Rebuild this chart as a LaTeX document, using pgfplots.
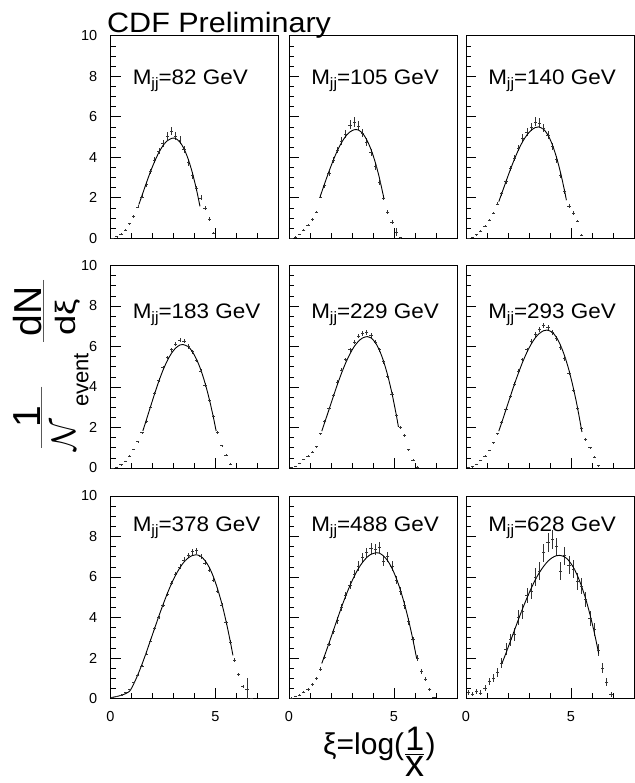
\RequirePackage{fix-cm}
\documentclass[border=0pt]{standalone}
\usepackage{pgfplots}
\pgfplotsset{compat=1.18}
\usepackage{graphicx}
\usepackage{amsmath}
\usepackage{fontspec}
\setmainfont{Liberation Sans}

\newcommand{\tickfont}{\fontsize{14.5}{14.5}\selectfont}
\newcommand{\mjj}[1]{\fontsize{21}{21}\selectfont\scalebox{1.07}[1]{M\raisebox{-4.5pt}{\fontsize{15}{15}\selectfont jj}=#1 GeV}}

\pgfplotsset{
  panel/.style={
    scale only axis, width=168pt, height=202.5pt, anchor=south west,
    xmin=0, xmax=8, ymin=0, ymax=10,
    xtick={0,5}, minor xtick={1,2,3,4,6,7},
    ytick={0,2,4,6,8,10},
    minor ytick={0.5,1,1.5,2.5,3,3.5,4.5,5,5.5,6.5,7,7.5,8.5,9,9.5},
    tick align=inside, xtick pos=bottom, ytick pos=left,
    major tick length=10pt, minor tick length=5pt,
    every tick/.style={black, line width=0.6pt},
    axis line style={line width=0.9pt, black},
    /pgf/number format/assume math mode=true,
    xticklabel style={font=\tickfont, inner sep=0pt, anchor=north, yshift=-13pt},
    yticklabel style={font=\tickfont, inner sep=0pt, anchor=east, xshift=-13pt},
  },
  noy/.style={yticklabels={}},
  nox/.style={xticklabels={}},
  dat/.style={only marks, black!80, mark=-, mark size=1.6pt,
    mark options={line width=0.55pt},
    error bars/.cd, y dir=both, y explicit, error mark=none,
    error bar style={line width=0.55pt, black!80}},
  fit/.style={no marks, smooth, line width=0.9pt, black},
}

\begin{document}
\begin{tikzpicture}[x=1pt,y=1pt]
\path[use as bounding box] (0,0) rectangle (634,783);

% ---------------- Row 1 ----------------
\begin{axis}[panel, nox, at={(110.5pt,544.7pt)}]
\addplot[dat] table[row sep=\\, x index=0, y index=1, y error index=2]{
0.1 0.01 0.01\\ 0.3 0.08 0.02\\ 0.5 0.22 0.03\\ 0.7 0.42 0.04\\ 0.9 0.72 0.05\\
1.1 1.08 0.06\\ 1.3 1.55 0.07\\ 1.5 2.05 0.08\\ 1.7 2.65 0.1\\ 1.9 3.3 0.12\\
2.1 3.85 0.14\\ 2.3 4.3 0.15\\ 2.5 4.7 0.17\\ 2.7 5.05 0.19\\ 2.9 5.3 0.2\\
3.1 5.05 0.2\\ 3.3 4.85 0.2\\ 3.5 4.4 0.18\\ 3.7 3.75 0.16\\ 3.9 3.1 0.15\\
4.1 2.45 0.13\\ 4.3 2.0 0.12\\ 4.5 1.5 0.1\\ 4.7 0.95 0.08\\ 4.9 0.25 0.05\\
};
\addplot[fit] coordinates {(1.35,1.67)(1.5,2.11)(1.7,2.71)(1.9,3.28)(2.1,3.79)(2.3,4.23)(2.5,4.58)(2.7,4.81)(2.9,4.93)(3.0,4.95)(3.1,4.93)(3.3,4.76)(3.5,4.42)(3.7,3.91)(3.9,3.23)(4.1,2.38)(4.26,1.58)};
\node[anchor=base west, inner sep=0pt] at (axis cs:1.05,7.6) {\mjj{82}};
\end{axis}

\begin{axis}[panel, nox, noy, at={(289pt,544.7pt)}]
\addplot[dat] table[row sep=\\, x index=0, y index=1, y error index=2]{
0.1 0.01 0.01\\ 0.3 0.07 0.02\\ 0.5 0.2 0.03\\ 0.7 0.4 0.04\\ 0.9 0.65 0.05\\
1.1 0.92 0.06\\ 1.3 1.3 0.07\\ 1.5 2.05 0.08\\ 1.7 2.6 0.1\\ 1.9 3.2 0.12\\
2.1 3.85 0.14\\ 2.3 4.35 0.16\\ 2.5 4.8 0.18\\ 2.7 5.15 0.2\\ 2.9 5.6 0.22\\
3.1 5.75 0.24\\ 3.3 5.55 0.22\\ 3.5 5.2 0.2\\ 3.7 4.75 0.2\\ 3.9 4.25 0.18\\
4.1 3.55 0.16\\ 4.3 2.75 0.14\\ 4.5 2.0 0.12\\ 4.7 1.3 0.1\\ 4.9 0.8 0.08\\
5.1 0.3 0.2\\ 5.3 0.03 0.02\\
};
\addplot[fit] coordinates {(1.48,2.05)(1.7,2.71)(1.9,3.29)(2.1,3.83)(2.3,4.32)(2.5,4.72)(2.7,5.04)(2.9,5.25)(3.1,5.36)(3.19,5.37)(3.3,5.35)(3.5,5.19)(3.7,4.87)(3.9,4.40)(4.1,3.78)(4.3,3.00)(4.52,1.97)};
\node[anchor=base west, inner sep=0pt] at (axis cs:1.05,7.6) {\mjj{105}};
\end{axis}

\begin{axis}[panel, nox, noy, at={(466pt,544.7pt)}]
\addplot[dat] table[row sep=\\, x index=0, y index=1, y error index=2]{
0.1 0.01 0.01\\ 0.3 0.06 0.02\\ 0.5 0.18 0.03\\ 0.7 0.36 0.04\\ 0.9 0.6 0.05\\
1.1 0.9 0.06\\ 1.3 1.25 0.07\\ 1.5 1.7 0.08\\ 1.7 2.2 0.1\\ 1.9 2.8 0.11\\
2.1 3.45 0.13\\ 2.3 3.95 0.14\\ 2.5 4.45 0.16\\ 2.7 4.95 0.18\\ 2.9 5.25 0.2\\
3.1 5.5 0.2\\ 3.3 5.75 0.22\\ 3.5 5.7 0.22\\ 3.7 5.45 0.2\\ 3.9 5.1 0.2\\
4.1 4.55 0.18\\ 4.3 3.9 0.16\\ 4.5 3.1 0.14\\ 4.7 2.3 0.12\\ 4.9 1.6 0.1\\
5.1 1.25 0.08\\ 5.3 0.85 0.07\\ 5.5 0.15 0.05\\
};
\addplot[fit] coordinates {(1.56,1.81)(1.7,2.21)(1.9,2.79)(2.1,3.36)(2.3,3.89)(2.5,4.37)(2.7,4.78)(2.9,5.10)(3.1,5.33)(3.3,5.47)(3.46,5.5)(3.7,5.38)(3.9,5.10)(4.1,4.65)(4.3,4.03)(4.5,3.25)(4.7,2.31)(4.78,1.88)};
\node[anchor=base west, inner sep=0pt] at (axis cs:1.05,7.6) {\mjj{140}};
\end{axis}

% ---------------- Row 2 ----------------
\begin{axis}[panel, nox, at={(110.5pt,315pt)}]
\addplot[dat] table[row sep=\\, x index=0, y index=1, y error index=2]{
0.1 0.01 0.01\\ 0.3 0.06 0.01\\ 0.5 0.17 0.02\\ 0.7 0.35 0.02\\ 0.9 0.6 0.03\\
1.1 0.92 0.03\\ 1.3 1.3 0.04\\ 1.5 1.75 0.05\\ 1.7 2.3 0.06\\ 1.9 3.0 0.06\\
2.1 3.7 0.07\\ 2.3 4.35 0.08\\ 2.5 4.95 0.08\\ 2.7 5.45 0.09\\ 2.9 5.85 0.1\\
3.1 6.1 0.1\\ 3.3 6.3 0.1\\ 3.5 6.25 0.1\\ 3.7 6.0 0.1\\ 3.9 5.75 0.1\\
4.1 5.3 0.09\\ 4.3 4.8 0.09\\ 4.5 4.1 0.08\\ 4.7 3.35 0.08\\ 4.9 2.55 0.07\\
5.1 1.75 0.06\\ 5.3 1.1 0.05\\ 5.5 0.65 0.04\\ 5.7 0.2 0.03\\
};
\addplot[fit] coordinates {(1.54,1.83)(1.7,2.35)(1.9,3.01)(2.1,3.66)(2.3,4.28)(2.5,4.83)(2.7,5.29)(2.9,5.66)(3.1,5.92)(3.3,6.07)(3.44,6.1)(3.7,5.99)(3.9,5.74)(4.1,5.36)(4.3,4.85)(4.5,4.20)(4.7,3.42)(4.9,2.50)(5.03,1.83)};
\node[anchor=base west, inner sep=0pt] at (axis cs:1.05,7.4) {\mjj{183}};
\end{axis}

\begin{axis}[panel, nox, noy, at={(289pt,315pt)}]
\addplot[dat] table[row sep=\\, x index=0, y index=1, y error index=2]{
0.1 0.02 0.01\\ 0.3 0.08 0.01\\ 0.5 0.25 0.02\\ 0.7 0.42 0.02\\ 0.9 0.6 0.03\\
1.1 0.8 0.03\\ 1.3 1.05 0.04\\ 1.5 1.7 0.05\\ 1.7 2.3 0.06\\ 1.9 2.95 0.06\\
2.1 3.6 0.07\\ 2.3 4.25 0.08\\ 2.5 4.85 0.08\\ 2.7 5.35 0.09\\ 2.9 5.85 0.1\\
3.1 6.2 0.1\\ 3.3 6.5 0.1\\ 3.5 6.65 0.11\\ 3.7 6.7 0.11\\ 3.9 6.55 0.11\\
4.1 6.2 0.1\\ 4.3 5.85 0.1\\ 4.5 5.25 0.09\\ 4.7 4.55 0.09\\ 4.9 3.65 0.08\\
5.1 2.6 0.07\\ 5.3 2.0 0.06\\ 5.5 1.6 0.06\\ 5.7 0.9 0.05\\ 5.9 0.4 0.04\\
6.1 0.05 0.03\\
};
\addplot[fit] coordinates {(1.56,1.82)(1.7,2.25)(1.9,2.87)(2.1,3.50)(2.3,4.11)(2.5,4.68)(2.7,5.19)(2.9,5.63)(3.1,5.99)(3.3,6.25)(3.5,6.42)(3.73,6.49)(3.9,6.43)(4.1,6.21)(4.3,5.83)(4.5,5.28)(4.7,4.57)(4.9,3.70)(5.1,2.67)(5.21,2.03)};
\node[anchor=base west, inner sep=0pt] at (axis cs:1.05,7.4) {\mjj{229}};
\end{axis}

\begin{axis}[panel, nox, noy, at={(466pt,315pt)}]
\addplot[dat] table[row sep=\\, x index=0, y index=1, y error index=2]{
0.1 0.02 0.01\\ 0.3 0.07 0.01\\ 0.5 0.2 0.02\\ 0.7 0.38 0.02\\ 0.9 0.6 0.03\\
1.1 0.88 0.03\\ 1.3 1.25 0.04\\ 1.5 1.7 0.05\\ 1.7 2.25 0.06\\ 1.9 2.9 0.06\\
2.1 3.55 0.07\\ 2.3 4.15 0.08\\ 2.5 4.8 0.08\\ 2.7 5.35 0.09\\ 2.9 5.85 0.1\\
3.1 6.25 0.1\\ 3.3 6.6 0.11\\ 3.5 6.85 0.12\\ 3.7 7.05 0.12\\ 3.9 6.95 0.12\\
4.1 6.7 0.12\\ 4.3 6.4 0.11\\ 4.5 5.95 0.1\\ 4.7 5.4 0.1\\ 4.9 4.7 0.09\\
5.1 3.85 0.08\\ 5.3 2.95 0.08\\ 5.5 1.95 0.07\\ 5.7 1.4 0.06\\ 5.9 1.0 0.05\\
6.1 0.55 0.05\\ 6.3 0.12 0.04\\
};
\addplot[fit] coordinates {(1.56,1.82)(1.7,2.24)(1.9,2.87)(2.1,3.50)(2.3,4.12)(2.5,4.70)(2.7,5.24)(2.9,5.71)(3.1,6.11)(3.3,6.43)(3.5,6.65)(3.7,6.78)(3.86,6.81)(4.1,6.71)(4.3,6.46)(4.5,6.06)(4.7,5.52)(4.9,4.84)(5.1,4.00)(5.3,3.03)(5.52,1.78)};
\node[anchor=base west, inner sep=0pt] at (axis cs:1.05,7.4) {\mjj{293}};
\end{axis}

% ---------------- Row 3 ----------------
\begin{axis}[panel, at={(110.5pt,84.5pt)}]
\addplot[dat] table[row sep=\\, x index=0, y index=1, y error index=2]{
0.1 0.05 0.01\\ 0.3 0.1 0.01\\ 0.5 0.18 0.02\\ 0.7 0.3 0.02\\ 0.9 0.45 0.03\\
1.1 0.8 0.03\\ 1.3 1.15 0.04\\ 1.5 1.6 0.05\\ 1.7 2.2 0.06\\ 1.9 2.85 0.07\\
2.1 3.45 0.08\\ 2.3 4.0 0.08\\ 2.5 4.6 0.09\\ 2.7 5.15 0.1\\ 2.9 5.7 0.1\\
3.1 6.15 0.11\\ 3.3 6.5 0.12\\ 3.5 6.85 0.12\\ 3.7 7.05 0.13\\ 3.9 7.25 0.14\\
4.1 7.3 0.14\\ 4.3 7.0 0.13\\ 4.5 6.7 0.13\\ 4.7 6.35 0.12\\ 4.9 5.85 0.12\\
5.1 5.3 0.11\\ 5.3 4.6 0.1\\ 5.5 3.75 0.1\\ 5.7 2.8 0.09\\ 5.9 1.9 0.08\\
6.1 1.2 0.07\\ 6.3 0.6 0.06\\ 6.5 0.45 0.55\\ 6.7 0.02 0.02\\
};
\addplot[fit] coordinates {(0.0,0.04)(0.3,0.1)(0.6,0.19)(0.9,0.35)(1.1,0.71)(1.3,1.17)(1.5,1.69)(1.7,2.26)(1.9,2.86)(2.1,3.46)(2.3,4.06)(2.5,4.63)(2.7,5.17)(2.9,5.66)(3.1,6.09)(3.3,6.45)(3.5,6.74)(3.7,6.94)(3.9,7.06)(4.08,7.1)(4.3,7.02)(4.5,6.81)(4.7,6.48)(4.9,6.01)(5.1,5.41)(5.3,4.69)(5.5,3.83)(5.7,2.84)(5.83,2.13)};
\node[anchor=base west, inner sep=0pt] at (axis cs:1.05,8.25) {\mjj{378}};
\end{axis}

\begin{axis}[panel, noy, at={(289pt,84.5pt)}]
\addplot[dat] table[row sep=\\, x index=0, y index=1, y error index=2]{
0.1 0.03 0.02\\ 0.3 0.1 0.03\\ 0.5 0.18 0.04\\ 0.7 0.3 0.05\\ 0.9 0.45 0.06\\
1.1 0.7 0.07\\ 1.3 1.0 0.08\\ 1.5 1.45 0.09\\ 1.7 2.05 0.1\\ 1.9 2.7 0.12\\
2.1 3.3 0.13\\ 2.3 3.85 0.15\\ 2.5 4.5 0.16\\ 2.7 5.1 0.18\\ 2.9 5.6 0.2\\
3.1 6.15 0.22\\ 3.3 6.55 0.23\\ 3.5 6.95 0.25\\ 3.7 7.2 0.25\\ 3.9 7.4 0.26\\
4.1 7.35 0.26\\ 4.3 7.45 0.26\\ 4.5 6.8 0.25\\ 4.7 7.0 0.25\\ 4.9 6.55 0.24\\
5.1 5.85 0.22\\ 5.3 5.3 0.21\\ 5.5 4.6 0.2\\ 5.7 3.8 0.18\\ 5.9 2.9 0.16\\
6.1 2.0 0.14\\ 6.3 1.35 0.12\\ 6.5 0.95 0.1\\ 6.7 0.45 0.08\\ 6.9 0.05 0.04\\
};
\addplot[fit] coordinates {(1.56,1.73)(1.7,2.13)(1.9,2.72)(2.1,3.32)(2.3,3.92)(2.5,4.51)(2.7,5.06)(2.9,5.57)(3.1,6.02)(3.3,6.41)(3.5,6.72)(3.7,6.96)(3.9,7.12)(4.17,7.2)(4.3,7.18)(4.5,7.04)(4.7,6.80)(4.9,6.44)(5.1,5.96)(5.3,5.37)(5.5,4.66)(5.7,3.84)(5.9,2.91)(6.08,1.97)};
\node[anchor=base west, inner sep=0pt] at (axis cs:1.05,8.25) {\mjj{488}};
\end{axis}

\begin{axis}[panel, noy, at={(466pt,84.5pt)}]
\addplot[dat] table[row sep=\\, x index=0, y index=1, y error index=2]{
0.1 0.3 0.12\\ 0.3 0.22 0.1\\ 0.5 0.35 0.12\\ 0.7 0.28 0.12\\ 0.9 0.5 0.15\\
1.1 0.85 0.18\\ 1.3 1.0 0.2\\ 1.5 1.3 0.22\\ 1.7 1.75 0.25\\ 1.9 2.45 0.28\\
2.1 2.9 0.3\\ 2.3 3.15 0.32\\ 2.5 4.0 0.35\\ 2.7 4.3 0.36\\ 2.9 5.1 0.38\\
3.1 5.3 0.4\\ 3.3 6.0 0.42\\ 3.5 6.3 0.43\\ 3.7 7.2 0.45\\ 3.9 7.7 0.46\\
4.1 7.85 0.46\\ 4.3 7.5 0.45\\ 4.5 6.3 0.44\\ 4.7 7.05 0.45\\ 4.9 6.6 0.44\\
5.1 6.4 0.43\\ 5.3 5.8 0.42\\ 5.5 5.55 0.4\\ 5.7 4.9 0.38\\ 5.9 3.95 0.35\\
6.1 3.4 0.33\\ 6.3 2.4 0.3\\ 6.5 1.5 0.25\\ 6.7 0.8 0.2\\ 6.9 0.2 0.12\\
};
\addplot[fit] coordinates {(1.71,1.73)(1.9,2.23)(2.1,2.79)(2.3,3.35)(2.5,3.91)(2.7,4.45)(2.9,4.96)(3.1,5.43)(3.3,5.86)(3.5,6.23)(3.7,6.53)(3.9,6.78)(4.1,6.95)(4.3,7.05)(4.46,7.07)(4.7,6.99)(4.9,6.80)(5.1,6.50)(5.3,6.08)(5.5,5.55)(5.7,4.92)(5.9,4.16)(6.1,3.30)(6.32,2.22)};
\node[anchor=base west, inner sep=0pt] at (axis cs:1.05,8.25) {\mjj{628}};
\end{axis}

% ---------------- Titles and axis labels ----------------
\node[anchor=base west, inner sep=0pt] at (107pt,750pt)
  {\fontsize{28}{28}\selectfont\scalebox{1.09}[1]{CDF Preliminary}};

\node[anchor=base west, inner sep=0pt] at (323pt,28pt)
  {\fontsize{30}{30}\selectfont ξ=log(\raisebox{-7pt}{$\frac{\text{\fontsize{34}{34}\selectfont 1}}{\raisebox{-3pt}{\text{\fontsize{38}{38}\selectfont x}}}$})};

% y-axis label: 1/N_event dN/dxi (rotated)
\node[rotate=90, anchor=base, inner sep=0pt] at (40pt,366.5pt)
  {\fontsize{39}{39}\selectfont 1};
\draw[line width=1.1pt, black!65] (41.7pt,396.3pt) -- (41.7pt,334.7pt);
\node[rotate=90, anchor=base, inner sep=0pt] at (75pt,348pt)
  {\fontsize{34}{34}\selectfont $\mathcal{N}$};
\node[rotate=90, anchor=base west, inner sep=0pt] at (88.3pt,376pt)
  {\fontsize{22}{22}\selectfont event};
\node[rotate=90, anchor=base, inner sep=0pt] at (41.5pt,471.5pt)
  {\fontsize{39}{39}\selectfont dN};
\draw[line width=1.1pt, black!65] (43.3pt,503pt) -- (43.3pt,441.3pt);
\node[rotate=90, anchor=base, inner sep=0pt] at (75pt,466pt)
  {\fontsize{28}{28}\selectfont\scalebox{1.3}[1]{dξ}};
\end{tikzpicture}
\end{document}
